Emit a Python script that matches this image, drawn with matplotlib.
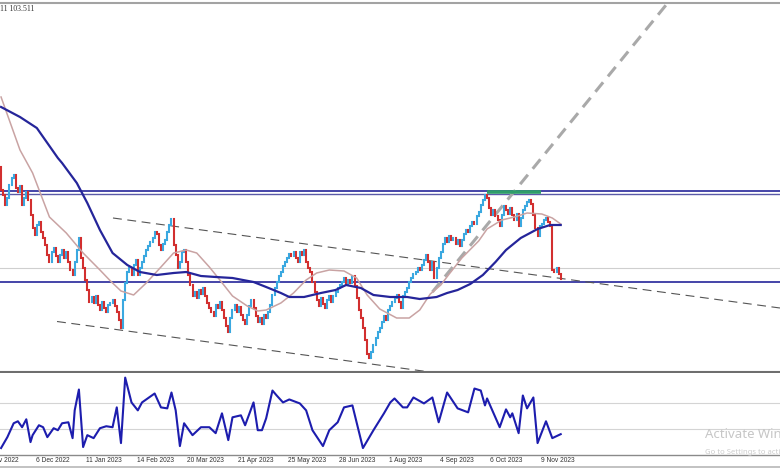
import matplotlib.pyplot as plt
from matplotlib.lines import Line2D

# one daily bar is ~2.1 px wide in the screenshot
BAR_PX = 2.104
W, H = 780, 470

# daily closes (open = previous close)
first_open = 108.65
closes = [
    107.50, 107.25, 106.75, 107.10, 107.75, 108.10, 108.25, 107.60, 107.40, 107.70,
    106.75, 107.10, 107.40, 107.00, 106.25, 105.60, 105.25, 105.75, 105.90, 105.40,
    105.10, 104.75, 104.25, 103.90, 104.40, 104.60, 104.20, 103.90, 104.25, 104.50,
    104.10, 104.40, 103.90, 103.50, 103.25, 103.90, 104.50, 105.10, 104.10, 103.60,
    103.00, 102.50, 101.90, 102.15, 101.85, 102.20, 101.75, 101.50, 101.90, 101.60,
    101.40, 101.75, 101.85, 102.00, 101.70, 101.40, 101.00, 100.60, 102.00, 102.85,
    103.40, 103.60, 103.25, 103.75, 104.00, 103.25, 103.60, 103.90, 104.20, 104.50,
    104.70, 104.90, 105.10, 105.40, 105.30, 104.75, 104.50, 104.80, 105.00, 105.40,
    105.75, 106.05, 104.75, 104.25, 103.60, 103.90, 104.40, 104.50, 103.90, 103.25,
    102.75, 102.20, 102.40, 102.10, 102.50, 102.30, 102.60, 102.20, 101.85, 101.60,
    101.40, 101.20, 101.75, 101.60, 101.90, 101.50, 101.10, 100.70, 100.40, 101.10,
    101.50, 101.75, 101.40, 101.65, 101.25, 101.00, 100.80, 101.25, 101.70, 102.00,
    101.60, 101.20, 100.90, 101.10, 100.80, 101.25, 101.10, 101.40, 101.75, 102.25,
    102.60, 102.90, 103.20, 103.40, 103.70, 103.90, 104.10, 104.30, 104.20, 104.40,
    104.10, 103.90, 104.40, 104.25, 104.50, 103.90, 103.60, 103.40, 102.90, 102.40,
    102.00, 101.70, 102.10, 101.80, 101.60, 102.00, 102.20, 101.90, 102.20, 102.40,
    102.60, 102.75, 102.90, 103.10, 102.80, 103.00, 102.85, 103.20, 102.70, 102.10,
    101.50, 101.10, 100.60, 100.00, 99.30, 99.10, 99.40, 99.75, 100.10, 100.40,
    100.60, 100.90, 101.20, 101.00, 101.50, 101.70, 101.90, 102.10, 102.25, 101.90,
    101.60, 102.20, 102.40, 102.60, 102.90, 103.10, 103.30, 103.40, 103.60, 103.50,
    103.75, 104.00, 104.25, 103.90, 103.50, 103.90, 103.10, 103.60, 104.10, 104.40,
    104.80, 105.10, 104.90, 105.20, 105.00, 105.10, 104.80, 105.00, 104.70, 105.00,
    105.30, 105.50, 105.40, 105.70, 105.90, 105.80, 106.20, 106.40, 106.75, 107.00,
    107.25, 107.10, 106.60, 106.25, 106.50, 106.20, 106.00, 105.70, 106.25, 106.70,
    106.50, 106.30, 106.60, 106.25, 106.00, 106.30, 105.70, 106.10, 106.50, 106.70,
    106.90, 107.00, 106.80, 106.25, 105.60, 105.20, 105.70, 105.80, 106.00, 106.10,
    105.90, 105.70, 103.50, 103.40, 103.60, 103.30, 103.05,
]

# slow moving average (navy)
ma_slow_bars = [0, 9, 17, 20, 27, 29, 36, 41, 47, 53, 60, 66, 74, 82, 88, 95, 102,
                110, 120, 126, 133, 137, 144, 152, 159, 164, 171, 177, 185, 193,
                199, 207, 212, 217, 223, 229, 235, 240, 247, 255, 261, 266]
ma_slow = [111.65, 111.15, 110.60, 110.15, 109.10, 108.85, 107.85, 106.85, 105.50,
           104.35, 103.75, 103.40, 103.25, 103.35, 103.40, 103.20, 103.15, 103.10,
           102.90, 102.65, 102.35, 102.15, 102.15, 102.35, 102.50, 102.75, 102.60,
           102.25, 102.15, 102.15, 102.05, 102.15, 102.35, 102.50, 102.80, 103.25,
           103.90, 104.50, 105.10, 105.55, 105.75, 105.75]

# fast moving average (rosy)
ma_fast_bars = [0, 9, 15, 23, 31, 39, 47, 52, 57, 63, 69, 76, 82, 88, 93, 99, 104,
                110, 117, 122, 126, 133, 139, 145, 150, 156, 163, 169, 174, 180,
                188, 194, 199, 204, 209, 213, 219, 227, 231, 238, 244, 250, 257,
                262, 266]
ma_fast = [112.15, 109.50, 108.35, 106.15, 105.35, 104.35, 103.50, 102.95, 102.45,
           102.25, 102.85, 103.65, 104.35, 104.50, 104.35, 103.65, 103.00, 102.20,
           101.70, 101.45, 101.50, 101.85, 102.35, 103.00, 103.35, 103.50, 103.45,
           103.10, 102.25, 101.55, 101.10, 101.10, 101.50, 102.30, 102.75, 103.30,
           104.10, 104.95, 105.55, 106.00, 106.15, 106.35, 106.30, 106.10, 105.80]

# oscillator in the lower window
osc_bars = [0, 3, 6, 8, 10, 12, 14, 15, 18, 20, 22, 25, 27, 29, 32, 34, 35, 37, 39,
            41, 44, 47, 50, 53, 55, 57, 59, 62, 65, 67, 73, 76, 79, 81, 83, 85, 87,
            91, 95, 99, 102, 105, 108, 110, 114, 116, 120, 122, 124, 126, 129, 131,
            134, 137, 142, 145, 148, 153, 156, 160, 163, 167, 172, 177, 182, 185,
            187, 191, 193, 196, 201, 205, 208, 212, 217, 222, 225, 228, 230, 231,
            237, 240, 242, 243, 246, 248, 250, 253, 255, 259, 262, 266]
osc_vals = [1.5, 18, 39, 42, 33, 45, 10.5, 21, 36, 33, 18, 31.5, 28.5, 39, 40.5,
            16.5, 58.5, 90, 3, 21, 16.5, 31.5, 34.5, 33, 63, 9, 108, 70.5, 58.5,
            70.5, 84, 63, 61.5, 85.5, 58.5, 4.5, 39, 21, 33, 33, 24, 54, 13.5, 48,
            51, 36, 70.5, 28.5, 28.5, 46.5, 88.5, 81, 70.5, 75, 69, 58.5, 28.5, 4.5,
            28.5, 40.5, 63, 66, 1.5, 28.5, 54, 70.5, 76.5, 63, 63, 78, 69, 78, 40.5,
            85.5, 61.5, 55.5, 91.5, 88.5, 66, 76.5, 33, 60, 48, 54, 24, 81, 61.5, 78,
            9, 42, 16.5, 22.5]
osc_levels = [70, 30]

date_labels = ["1 Nov 2022", "6 Dec 2022", "11 Jan 2023", "14 Feb 2023",
               "20 Mar 2023", "21 Apr 2023", "25 May 2023", "28 Jun 2023",
               "1 Aug 2023", "4 Sep 2023", "6 Oct 2023", "9 Nov 2023"]
date_bars = [-7, 17, 41, 65, 89, 113, 137, 161, 185, 209, 233, 257]

# drawn objects
resist_hi, resist_lo = 107.45, 107.32
support = 102.92
last_price = 103.60
top_zone = (231, 256.5, 107.40)
channel_up = ((53.2, 370.2), (106.10, 101.60))
channel_dn = ((26.6, 203.9), (100.925, 98.40))
trend_up = ((205.0, 318.0), (102.40, 117.00))

BULL = "#3aa8e0"
BEAR = "#d22f2f"
NAVY = "#25259a"

fig = plt.figure(figsize=(W / 100, H / 100), dpi=100)
xlim = (-0.5, W / BAR_PX - 0.5)

# ---- main price window
ax = fig.add_axes([0, 1 - 372 / H, 1, 368 / H])
ax.set_xlim(xlim)
ax.set_ylim(117 - 372 / 20, 117 - 4 / 20)

ax.axhline(last_price, color="#cfcfcf", lw=0.8, zorder=1)
ax.axhline(resist_hi, color=NAVY, lw=1.2, zorder=2)
ax.axhline(resist_lo, color="#5a5aa8", lw=1.0, zorder=2)
ax.axhline(support, color=NAVY, lw=1.2, zorder=2)
ax.hlines(top_zone[2], top_zone[0], top_zone[1], color="#2e9e6a", lw=2.6, zorder=3)

ax.plot(*channel_up, color="#555555", lw=0.8, dashes=(8, 5), zorder=2)
ax.plot(*channel_dn, color="#555555", lw=0.8, dashes=(8, 5), zorder=2)
ax.plot(*trend_up, color="#a9a9a9", lw=2.2, dashes=(4, 2.5), zorder=2)

opens = [first_open] + closes[:-1]
bars = list(range(len(closes)))
cols = [BULL if c >= o else BEAR for o, c in zip(opens, closes)]
lows = [min(o, c) for o, c in zip(opens, closes)]
highs = [max(o, c) for o, c in zip(opens, closes)]
lc = ax.vlines(bars, lows, highs, colors=cols, lw=1.5, zorder=4)
lc.set_capstyle("projecting")

ax.plot(ma_fast_bars, ma_fast, color="#c9a3a3", lw=1.1, zorder=5)
ax.plot(ma_slow_bars, ma_slow, color=NAVY, lw=1.6, zorder=5)

ax.set_xticks([])
ax.set_yticks([])
for s in ("top", "left", "right"):
    ax.spines[s].set_visible(False)
ax.spines["bottom"].set_color("#6e6e6e")
ax.spines["bottom"].set_linewidth(1.5)

# ---- oscillator window
ax2 = fig.add_axes([0, 1 - 455 / H, 1, 82 / H])
ax2.set_xlim(xlim)
ax2.set_ylim(-9, 115)
for lv in osc_levels:
    ax2.axhline(lv, color="#d4d4d4", lw=0.8)
ax2.plot(osc_bars, osc_vals, color="#1d1dae", lw=1.5)
ax2.set_xticks([])
ax2.set_yticks([])
for s in ("top", "left", "right"):
    ax2.spines[s].set_visible(False)
ax2.spines["bottom"].set_color("#8a8a8a")
ax2.spines["bottom"].set_linewidth(1.0)

for lab, b in zip(date_labels, date_bars):
    ax2.text(b - 0.5, -6 / 82, lab, transform=ax2.get_xaxis_transform(),
             ha="left", va="center", fontsize=4.8, color="#333333",
             family="Liberation Sans", clip_on=False)

# ---- window chrome
fig.add_artist(Line2D([0, 1], [1 - 2.5 / H] * 2, color="#a3a3a3", lw=1.5))
fig.add_artist(Line2D([0, 1], [1 - 467 / H] * 2, color="#b8b8b8", lw=1.2))
fig.text(0, 1 - 9 / H, "11 103.511", ha="left", va="center", fontsize=5.6,
         color="#333333", family="Liberation Serif")
fig.text(705 / W, 1 - 435 / H, "Activate Windows", ha="left", va="center",
         fontsize=9.5, color="#c6c6c6", family="Noto Sans")
fig.text(705 / W, 1 - 452 / H, "Go to Settings to activate Windows.", ha="left",
         va="center", fontsize=5.5, color="#cccccc", family="Noto Sans")

fig.savefig("out.png", dpi=100)
